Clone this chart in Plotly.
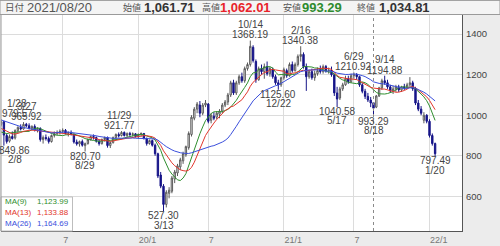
import pandas as pd
import plotly.graph_objects as go

# ---------------- data (weekly, week ending Friday) ----------------
start_date = "2019-02-01"
opens = [955, 968, 900, 872, 895, 888, 925, 940, 932, 955, 948, 935, 945, 928, 935, 880, 890, 885, 870, 900,
         910, 915, 920, 925, 910, 915, 905, 868, 858, 870, 850, 860, 880, 895, 890, 872, 860, 880, 890, 850,
         865, 890, 905, 900, 915, 900, 910, 905, 908, 895, 905, 910, 885, 860, 875, 852, 810, 705, 650, 560,
         615, 625, 685, 715, 745, 775, 805, 840, 905, 985, 1030, 1050, 1010, 1050, 1055, 975, 995, 990, 1005, 1020,
         1050, 1065, 1100, 1160, 1110, 1160, 1190, 1170, 1230, 1250, 1335, 1265, 1175, 1230, 1215, 1240, 1205, 1225, 1190, 1160,
         1150, 1185, 1220, 1195, 1250, 1220, 1250, 1290, 1300, 1240, 1190, 1215, 1185, 1205, 1225, 1215, 1240, 1220, 1222, 1200,
         1110, 1085, 1130, 1150, 1180, 1165, 1195, 1200, 1190, 1150, 1118, 1093, 1075, 1061.71, 1040, 1095, 1135, 1170, 1160, 1140,
         1120, 1130, 1140, 1125, 1140, 1135, 1150, 1160, 1130, 1060, 1030, 975, 1000, 970, 900, 860]
highs = [979.57, 972, 910, 905, 920, 930, 945, 955, 965.92, 962, 960, 950, 955, 940, 940, 900, 905, 895, 905, 920,
         925, 930, 935, 932, 920, 925, 910, 880, 875, 880, 865, 885, 900, 905, 895, 880, 885, 895, 895, 870,
         895, 910, 915, 921.77, 920, 915, 918, 915, 912, 910, 915, 912, 890, 880, 880, 860, 815, 720, 660, 630,
         645, 700, 730, 760, 790, 820, 850, 920, 1000, 1040, 1065, 1070, 1060, 1075, 1060, 1010, 1015, 1020, 1030, 1060,
         1075, 1110, 1170, 1175, 1170, 1200, 1210, 1240, 1260, 1368.19, 1345, 1275, 1240, 1250, 1255, 1265, 1240, 1235, 1200, 1175,
         1190, 1235, 1230, 1260, 1265, 1260, 1300, 1340.38, 1310, 1255, 1225, 1230, 1220, 1235, 1245, 1250, 1248, 1235, 1240, 1205,
         1140, 1140, 1160, 1195, 1195, 1205, 1210.92, 1208, 1195, 1158, 1130, 1110, 1090, 1062.01, 1100, 1140, 1180, 1194.88, 1175, 1150,
         1145, 1150, 1150, 1145, 1155, 1160, 1188, 1170, 1140, 1075, 1045, 1015, 1005, 980, 910, 865]
lows = [945, 849.86, 860, 865, 880, 880, 910, 925, 928, 940, 930, 925, 920, 915, 870, 860, 875, 860, 865, 890,
        900, 905, 910, 905, 895, 900, 860, 850, 845, 845, 820.70, 855, 875, 880, 865, 850, 855, 870, 840, 838,
        860, 880, 890, 895, 895, 890, 895, 895, 890, 885, 895, 880, 850, 855, 845, 800, 690, 640, 527.30, 545,
        590, 615, 665, 700, 730, 760, 795, 830, 895, 975, 1010, 990, 1000, 1040, 960, 960, 975, 980, 985, 1010,
        1040, 1050, 1090, 1100, 1100, 1150, 1160, 1160, 1220, 1240, 1260, 1160, 1170, 1200, 1180, 1195, 1190, 1180, 1150, 1125.60,
        1140, 1175, 1185, 1190, 1210, 1215, 1240, 1265, 1230, 1120, 1180, 1175, 1170, 1195, 1205, 1205, 1210, 1205, 1190, 1095,
        1040.58, 1075, 1120, 1145, 1155, 1160, 1180, 1175, 1140, 1108, 1080, 1065, 1040, 993.29, 1035, 1090, 1125, 1150, 1130, 1110,
        1105, 1115, 1115, 1115, 1125, 1130, 1140, 1120, 1050, 1020, 1000, 960, 960, 890, 850, 797.49]
closes = [968, 902, 870, 895, 885, 925, 940, 932, 955, 948, 935, 945, 928, 935, 880, 890, 885, 870, 900, 910,
          915, 920, 925, 910, 915, 905, 868, 858, 870, 852, 860, 880, 895, 890, 872, 860, 880, 890, 850, 865,
          890, 905, 898, 915, 900, 910, 905, 908, 895, 905, 910, 885, 860, 875, 852, 810, 700, 650, 560, 620,
          630, 690, 720, 750, 780, 810, 845, 910, 990, 1030, 1055, 1010, 1050, 1060, 970, 1000, 985, 1010, 1020, 1050,
          1065, 1100, 1160, 1110, 1160, 1190, 1170, 1230, 1250, 1340, 1270, 1175, 1230, 1215, 1240, 1205, 1230, 1190, 1160, 1150,
          1185, 1225, 1195, 1250, 1220, 1250, 1290, 1300, 1240, 1190, 1215, 1185, 1205, 1220, 1215, 1240, 1220, 1222, 1200, 1110,
          1080, 1130, 1150, 1180, 1165, 1195, 1200, 1190, 1150, 1118, 1093, 1075, 1060, 1034.81, 1095, 1135, 1170, 1160, 1140, 1120,
          1130, 1140, 1125, 1140, 1135, 1150, 1160, 1130, 1060, 1030, 1010, 1000, 970, 900, 860, 810]
# closes of the 26 weeks before the visible window (only feed the moving averages)
warmup_close = [1030, 1025, 1015, 1020, 1030, 1040, 1050, 1060, 1045, 1010, 990, 1000, 985, 975, 990, 980, 970,
                960, 940, 900, 870, 880, 905, 915, 930, 945]

ma_periods = [9, 13, 26]
ma_names = ["MA(9)", "MA(13)", "MA(26)"]
ma_values_text = ["1,123.99", "1,133.88", "1,164.69"]
ma_colors = ["#2f8f2f", "#e2362c", "#3b4fdc"]

# extreme labels: (week index, "high"/"low", first line, second line, xshift px)
extremes = [
    (0, "high", "1/28", "979.57", 16),
    (8, "high", "3/27", "965.92", 3),
    (1, "low", "849.86", "2/8", 11),
    (30, "low", "820.70", "8/29", 0),
    (43, "high", "11/29", "921.77", -2),
    (58, "low", "527.30", "3/13", 0),
    (89, "high", "10/14", "1368.19", 0),
    (99, "low", "1125.60", "12/22", 0),
    (107, "high", "2/16", "1340.38", 0),
    (120, "low", "1040.58", "5/17", 0),
    (126, "high", "6/29", "1210.92", 0),
    (133, "low", "993.29", "8/18", 0),
    (137, "high", "9/14", "1194.88", 0),
    (155, "low", "797.49", "1/20", 0),
]

tick_dates = ["2019-07-05", "2020-01-10", "2020-07-03", "2021-01-08", "2021-07-02", "2022-01-07"]
tick_text = ["7", "20/1", "7", "21/1", "7", "22/1"]
y_ticks = [600, 800, 1000, 1200, 1400]
cursor_date = "2021-08-20"

header_items = [
    (3, "日付", 9.5, "#555555", False),
    (25, "2021/08/20", 13, "#555555", False),
    (121, "始値", 9, "#555555", False),
    (142, "1,061.71", 13, "#333333", True),
    (200, "高値", 9, "#555555", False),
    (218, "1,062.01", 13, "#e8232a", True),
    (281, "安値", 9, "#555555", False),
    (300, "993.29", 13, "#2e8b2e", True),
    (355, "終値", 9, "#555555", False),
    (377, "1,034.81", 13, "#333333", True),
]

# ---------------- build ----------------
dates = pd.date_range(start_date, periods=len(closes), freq="7D")
all_close = pd.Series(warmup_close + closes)

W, H = 500, 246
ML, MR, MT, MB = 1, 38, 15, 9
PW, PH = W - ML - MR, H - MT - MB

def px_x(px):
    return (px - ML) / PW

def px_y(py):
    return (H - MB - py) / PH

fig = go.Figure()

fig.add_trace(go.Candlestick(
    x=dates, open=opens, high=highs, low=lows, close=closes,
    increasing=dict(line=dict(color="#5a5a5a", width=1), fillcolor="#ffffff"),
    decreasing=dict(line=dict(color="#161488", width=1), fillcolor="#161488"),
    whiskerwidth=0, showlegend=False, hoverinfo="skip"))

for p, c in zip(ma_periods, ma_colors):
    ma = all_close.rolling(p).mean().iloc[len(warmup_close):].values
    fig.add_trace(go.Scatter(x=dates, y=ma, mode="lines", line=dict(color=c, width=1),
                             showlegend=False, hoverinfo="skip"))

annotations = []
lab_font = dict(family="Liberation Sans, Arial, sans-serif", size=10, color="#444444")
for idx, kind, t1, t2, xs in extremes:
    if kind == "high":
        yv = highs[idx]
        shifts = (16, 5.7)
    else:
        yv = lows[idx]
        shifts = (-4.5, -14)
    for txt, ys in zip((t1, t2), shifts):
        annotations.append(dict(x=dates[idx], y=yv, text=txt, showarrow=False, xshift=xs, yshift=ys,
                                xanchor="center", yanchor="middle", font=lab_font))

for xp, txt, sz, col, bold in header_items:
    annotations.append(dict(xref="paper", yref="paper", x=px_x(xp), y=px_y(7.5),
                            text=f"<b>{txt}</b>" if bold else txt,
                            showarrow=False, xanchor="left", yanchor="middle",
                            font=dict(family="Liberation Sans, Noto Sans CJK JP, sans-serif", size=sz, color=col)))

leg_y = [207, 218, 229.5]
for name, val, col, yy in zip(ma_names, ma_values_text, ma_colors, leg_y):
    f = dict(family="Liberation Sans, Arial, sans-serif", size=8, color=col)
    annotations.append(dict(xref="paper", yref="paper", x=px_x(2.5), y=px_y(yy), text=name, showarrow=False,
                            xanchor="left", yanchor="middle", font=f))
    annotations.append(dict(xref="paper", yref="paper", x=px_x(71), y=px_y(yy), text=val, showarrow=False,
                            xanchor="right", yanchor="middle", font=f))

shapes = [
    dict(type="rect", xref="paper", yref="paper", x0=px_x(0), x1=px_x(500), y0=px_y(0), y1=px_y(14.5),
         fillcolor="#f4f4f4", line=dict(color="#9a9a9a", width=1), layer="below"),
    dict(type="line", xref="x", yref="paper", x0=cursor_date, x1=cursor_date, y0=0, y1=1,
         line=dict(color="#8a8a8a", width=1, dash="dot")),
    dict(type="rect", xref="paper", yref="paper", x0=px_x(1), x1=px_x(72.5), y0=px_y(202), y1=px_y(237),
         fillcolor="rgba(255,255,255,0.85)", line=dict(color="#bdbdbd", width=1)),
    dict(type="line", xref="paper", yref="paper", x0=0, x1=0, y0=0, y1=1, line=dict(color="#9a9a9a", width=1)),
]

x0 = pd.Timestamp("2020-01-10") + pd.Timedelta(days=(ML - 138.3) / 0.4)
x1 = pd.Timestamp("2020-01-10") + pd.Timedelta(days=(W - MR - 138.3) / 0.4)

fig.update_layout(
    width=W, height=H, margin=dict(l=ML, r=MR, t=MT, b=MB, pad=0),
    paper_bgcolor="#ececec", plot_bgcolor="#ffffff",
    annotations=annotations, shapes=shapes, showlegend=False,
    xaxis=dict(type="date", range=[x0, x1], rangeslider=dict(visible=False),
               tickvals=tick_dates, ticktext=tick_text, ticks="", showgrid=True,
               gridcolor="#dcdcdc", gridwidth=1, zeroline=False,
               showline=True, linecolor="#555555", linewidth=1,
               ticklabelposition="outside right",
               tickfont=dict(family="Liberation Sans, Arial, sans-serif", size=9, color="#777777")),
    yaxis=dict(side="right", range=[428.8, 1494.4], tickvals=y_ticks, ticktext=[str(v) for v in y_ticks],
               ticks="", showgrid=True, gridcolor="#dcdcdc", gridwidth=1, zeroline=False,
               showline=True, linecolor="#555555", linewidth=1, ticklabelstandoff=1,
               tickfont=dict(family="Liberation Sans, Arial, sans-serif", size=9.5, color="#444444")),
)

fig.write_html("out.html")
